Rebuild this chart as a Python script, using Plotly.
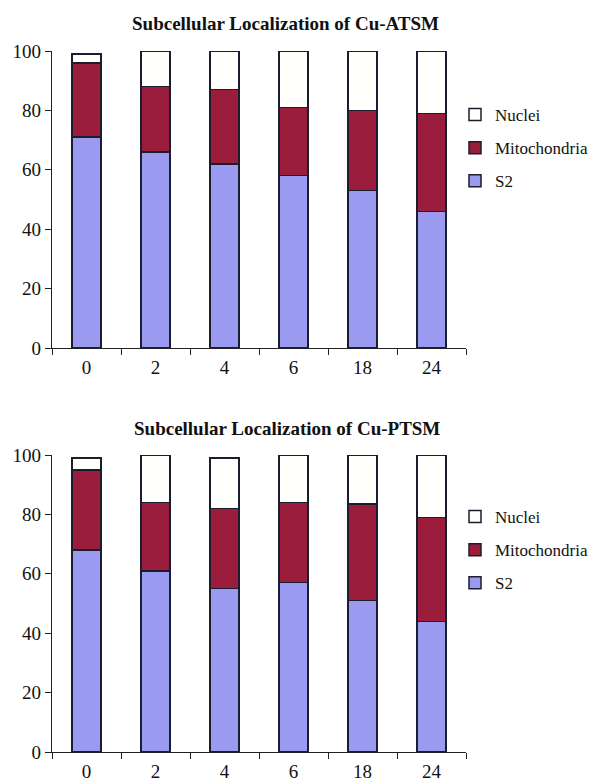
import plotly.graph_objects as go

times = ["0", "2", "4", "6", "18", "24"]

atsm_s2 = [71, 66, 62, 58, 53, 46]
atsm_mito = [25, 22, 25, 23, 27, 33]
atsm_nuclei = [3, 12, 13, 19, 20, 21]

ptsm_s2 = [68, 61, 55, 57, 51, 44]
ptsm_mito = [27, 23, 27, 27, 32.5, 35]
ptsm_nuclei = [4, 16, 17, 16, 16.5, 21]

series_names = ["S2", "Mitochondria", "Nuclei"]
colors = ["#9a9af0", "#9b1d3c", "#fffffb"]
ranks = [3, 2, 1]
titles = ["Subcellular Localization of Cu-ATSM", "Subcellular Localization of Cu-PTSM"]

# page body has an 8px margin; figure sized to the visible area
OFF = 8
W, H = 597 - OFF, 781 - OFF
FONT = "Liberation Serif"


def px_x(p):
    return (p - OFF) / W


def px_y(p):
    return 1 - (p - OFF) / H


fig = go.Figure()

panels = [
    ([atsm_s2, atsm_mito, atsm_nuclei], "x", "y", "legend"),
    ([ptsm_s2, ptsm_mito, ptsm_nuclei], "x2", "y2", "legend2"),
]
for vals, xa, ya, lg in panels:
    for name, v, c, r in zip(series_names, vals, colors, ranks):
        fig.add_trace(go.Bar(
            x=times, y=v, name=name, xaxis=xa, yaxis=ya, legend=lg,
            legendgroup=lg + name, legendrank=r,
            marker=dict(color=c, line=dict(color="#1c1c30", width=1.5)),
            width=0.42,
        ))

xdom = [px_x(52), px_x(466)]
top_dom = [px_y(348), px_y(51)]
bot_dom = [px_y(752), px_y(455)]

axis_common_x = dict(
    type="category", range=[-0.5, 5.5], showline=True, linecolor="#222",
    linewidth=1.2, ticks="outside", tickson="boundaries", ticklen=6,
    tickcolor="#222", showgrid=False, zeroline=False, ticklabelstandoff=2,
    tickfont=dict(family=FONT, size=19, color="#111"),
)
axis_common_y = dict(
    range=[0, 100], dtick=20, showline=True, linecolor="#222", linewidth=1.2,
    ticks="outside", ticklen=6, tickcolor="#222", showgrid=False,
    zeroline=False, tickfont=dict(family=FONT, size=19, color="#111"),
)

legend_common = dict(
    font=dict(family=FONT, size=17, color="#111"),
    traceorder="grouped", tracegroupgap=8,
    bgcolor="rgba(0,0,0,0)", itemclick=False,
    xanchor="left", yanchor="top",
)

fig.update_layout(
    width=W, height=H,
    margin=dict(l=0, r=0, t=0, b=0, autoexpand=False),
    paper_bgcolor="white", plot_bgcolor="white",
    barmode="stack",
    xaxis=dict(domain=xdom, anchor="y", **axis_common_x),
    yaxis=dict(domain=top_dom, anchor="x", **axis_common_y),
    xaxis2=dict(domain=xdom, anchor="y2", **axis_common_x),
    yaxis2=dict(domain=bot_dom, anchor="x2", **axis_common_y),
    legend=dict(x=px_x(455), y=px_y(97), **legend_common),
    legend2=dict(x=px_x(455), y=px_y(499), **legend_common),
    annotations=[
        dict(text="<b>" + titles[0] + "</b>", x=px_x(285), y=px_y(23),
             xref="paper", yref="paper", showarrow=False,
             xanchor="center", yanchor="middle",
             font=dict(family=FONT, size=19, color="#111")),
        dict(text="<b>" + titles[1] + "</b>", x=px_x(287), y=px_y(428),
             xref="paper", yref="paper", showarrow=False,
             xanchor="center", yanchor="middle",
             font=dict(family=FONT, size=19, color="#111")),
    ],
)

fig.write_html("out.html")
